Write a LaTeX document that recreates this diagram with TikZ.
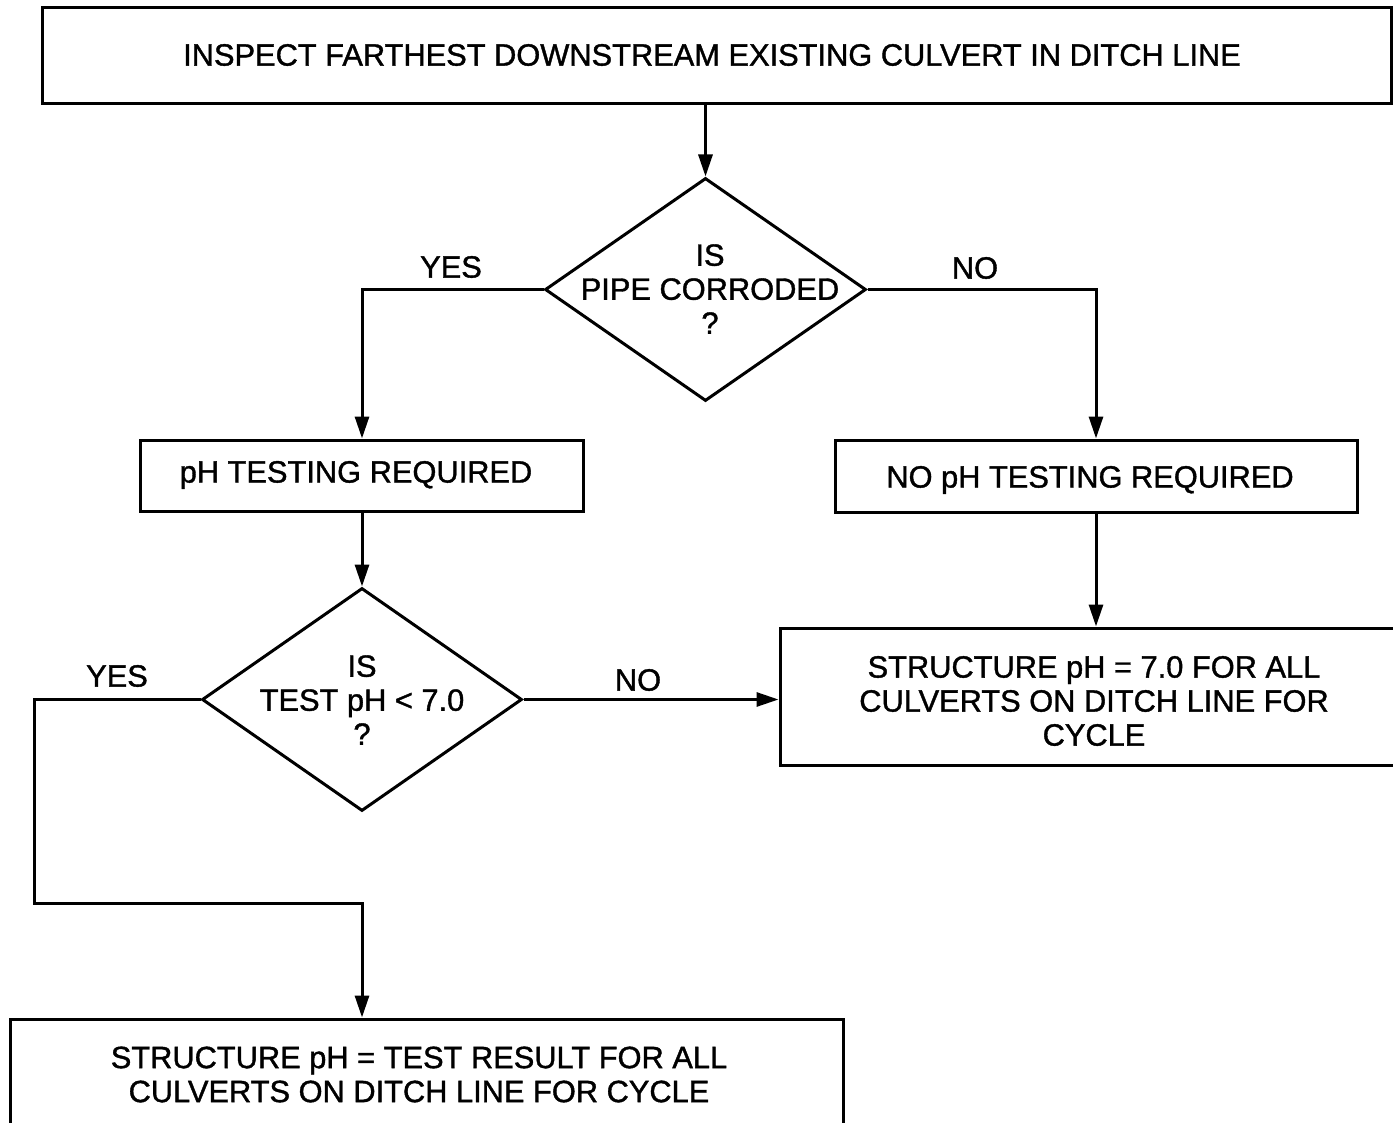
\documentclass[tikz,border=0pt]{standalone}
\usepackage{fontspec}
\newfontfamily\dfont[FakeBold=1.2]{Liberation Sans}
\usetikzlibrary{shapes.geometric,arrows.meta}
\begin{document}
\begin{tikzpicture}[x=1pt,y=-1pt,
  line width=3pt,
  font=\dfont\fontsize{30.8}{34}\selectfont,
  box/.style={draw,rectangle,inner sep=0pt,line width=3pt},
  dia/.style={draw,diamond,inner sep=0pt,line width=3pt},
  txt/.style={align=center,inner sep=0pt},
  lab/.style={inner sep=0pt},
  arr/.style={-{Triangle[length=22pt,width=14pt]}}]
\useasboundingbox (0,0) rectangle (1393,1123);
\clip (0,0) rectangle (1393,1123);
% boxes
\node[box,minimum width=1349pt,minimum height=96pt] (top) at (716.5,56) {};
\node[txt] (toptxt) at (712,55) {INSPECT FARTHEST DOWNSTREAM EXISTING CULVERT IN DITCH LINE};
\node[dia,minimum width=321pt,minimum height=223pt] (d1) at (705.5,289.5) {};
\node[txt] (d1txt) at (710,289) {IS\\PIPE CORRODED\\?};
\node[box,minimum width=443pt,minimum height=71pt] (ph) at (361.5,475.5) {};
\node[txt] (phtxt) at (356,475) {pH TESTING REQUIRED};
\node[box,minimum width=522pt,minimum height=72pt] (noph) at (1096,476) {};
\node[txt] (nophtxt) at (1090,480) {NO pH TESTING REQUIRED};
\node[dia,minimum width=320pt,minimum height=223pt] (d2) at (362,699.5) {};
\node[txt] (d2txt) at (362,700) {IS\\TEST pH < 7.0\\?};
\node[box,minimum width=640pt,minimum height=137pt] (s7) at (1100,696.5) {};
\node[txt] (s7txt) at (1094,701) {STRUCTURE pH = 7.0 FOR ALL\\CULVERTS ON DITCH LINE FOR\\CYCLE};
\node[box,minimum width=833pt,minimum height=140pt] (sr) at (426.5,1089) {};
\node[txt] (srtxt) at (419,1074.5) {STRUCTURE pH = TEST RESULT FOR ALL\\CULVERTS ON DITCH LINE FOR CYCLE};
% labels
\node[lab] (yes1) at (451,267) {YES};
\node[lab] (no1) at (975,268) {NO};
\node[lab] (no2) at (638,680) {NO};
\node[lab] (yes2) at (117,676) {YES};
% coordinates
\coordinate (c1) at (362,289.5);
\coordinate (c2) at (1096,289.5);
\coordinate (c3) at (34,699.5);
\coordinate (c4) at (34,903);
\coordinate (c5) at (362,903);
% connectors
\draw[arr] (top.south -| d1.north) -- (d1.north);
\draw[arr] (d1.west) -- (c1) -- (c1 |- ph.north);
\draw[arr] (d1.east) -- (c2) -- (c2 |- noph.north);
\draw[arr] (ph.south -| d2.north) -- (d2.north);
\draw[arr] (d2.east) -- (d2.east -| s7.west);
\draw[arr] (noph.south) -- (noph.south |- s7.north);
\draw[arr] (d2.west) -- (c3) -- (c4) -- (c5) -- (c5 |- sr.north);
\end{tikzpicture}
\end{document}
